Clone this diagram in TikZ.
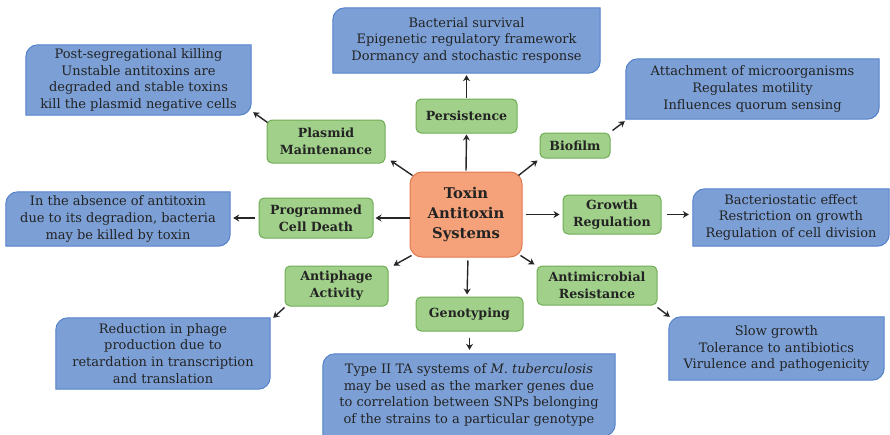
\documentclass[tikz,border=0pt]{standalone}
\usepackage{fontspec}
\setmainfont{DejaVu Serif}
\usetikzlibrary{arrows.meta,calc,backgrounds}
\definecolor{gfill}{RGB}{160,208,138}
\definecolor{gline}{RGB}{112,172,86}
\definecolor{bfill}{RGB}{124,160,214}
\definecolor{bline}{RGB}{84,130,202}
\definecolor{ofill}{RGB}{245,162,122}
\definecolor{oline}{RGB}{226,122,80}
\definecolor{txt}{RGB}{35,35,35}
\tikzset{
  x=1pt, y=-1pt,
  greenbox/.style={draw=gline, fill=gfill, line width=1pt, rounded corners=5pt,
    align=center, inner sep=1pt, font=\fontsize{12.6}{17}\selectfont\bfseries, text=txt},
  orangebox/.style={draw=oline, fill=ofill, line width=1pt, rounded corners=12pt,
    align=center, inner sep=1pt, font=\fontsize{14.8}{20}\selectfont\bfseries, text=txt},
  bluebox/.style={align=center, inner sep=1pt, font=\fontsize{13}{16.8}\selectfont, text=txt},
  conn/.style={-{Stealth[length=6pt,width=7pt,inset=2pt]}, line width=1.4pt, black!85}
}
\newcommand\bluebg[1]{%
  \path[fill=bfill, draw=bline, line width=1pt]
    (#1.south west) -- ([yshift=-12pt]#1.north west) arc[start angle=180,end angle=90,radius=12pt]
    -- (#1.north east) -- ([yshift=12pt]#1.south east) arc[start angle=0,end angle=-90,radius=12pt]
    -- cycle;}
\begin{document}
\begin{tikzpicture}
\useasboundingbox (0,0) rectangle (890,434);
% central
\node[orangebox, minimum width=112pt, minimum height=85pt] (tas) at (466,214.5) {Toxin\\Antitoxin\\Systems};
% green
\node[greenbox, minimum width=101pt, minimum height=34pt] (pers) at (466.5,116) {Persistence};
\node[greenbox, minimum width=118pt, minimum height=43pt] (plasm) at (326,141.5) {Plasmid\\Maintenance};
\node[greenbox, minimum width=70pt, minimum height=25pt] (bio) at (575,145.5) {Biofilm};
\node[greenbox, minimum width=114pt, minimum height=40pt] (pcd) at (316,218) {Programmed\\Cell Death};
\node[greenbox, minimum width=98pt, minimum height=39pt] (grow) at (612,214.5) {Growth\\Regulation};
\node[greenbox, minimum width=103pt, minimum height=40pt] (anti) at (336.5,286) {Antiphage\\Activity};
\node[greenbox, minimum width=107pt, minimum height=34pt] (geno) at (469.5,314) {Genotyping};
\node[greenbox, minimum width=120pt, minimum height=39pt] (amr) at (597,285.5) {Antimicrobial\\Resistance};
% blue
\node[bluebox, minimum width=267pt, minimum height=65pt] (surv) at (466.5,40.5) {Bacterial survival\\Epigenetic regulatory framework\\Dormancy and stochastic response};
\node[bluebox, minimum width=225pt, minimum height=70pt] (post) at (138.5,80) {Post-segregational killing\\Unstable antitoxins are\\degraded and stable toxins\\kill the plasmid negative cells};
\node[bluebox, minimum width=253pt, minimum height=60pt] (att) at (752.5,89) {Attachment of microorganisms\\Regulates motility\\Influences quorum sensing};
\node[bluebox, minimum width=224pt, minimum height=54pt] (abs) at (118,219) {In the absence of antitoxin\\due to its degradion, bacteria\\may be killed by toxin};
\node[bluebox, minimum width=196pt, minimum height=57pt] (bact) at (791,217.5) {Bacteriostatic effect\\Restriction on growth\\Regulation of cell division};
\node[bluebox, minimum width=214pt, minimum height=71pt] (red) at (163,353.5) {Reduction in phage\\production due to\\retardation in transcription\\and translation};
\node[bluebox, minimum width=292pt, minimum height=82pt] (typ) at (469,395) {Type II TA systems of \textit{M. tuberculosis}\\may be used as the marker genes due\\to correlation between SNPs belonging\\of the strains to a particular genotype};
\node[bluebox, minimum width=215pt, minimum height=63pt] (slow) at (776.5,348.5) {Slow growth\\Tolerance to antibiotics\\Virulence and pathogenicity};
\begin{pgfonlayer}{background}
\foreach \n in {surv,post,att,abs,bact,red,typ,slow}{\bluebg{\n}}
\end{pgfonlayer}
% connectors
\draw[conn, shorten <=1pt, shorten >=1pt] (tas.north) -- (pers.south);
\draw[conn, shorten <=1pt, shorten >=2pt] (pers.north) -- (surv.south);
\draw[conn] ($(tas.north west)+(3,4)$) -- ($(plasm.south east)+(5,-3)$);
\draw[conn] ($(plasm.north west)+(1,3)$) -- ($(post.south east)+(2,-3)$);
\draw[conn] ($(tas.north east)+(-4,4)$) -- ($(bio.south west)+(-2,2)$);
\draw[conn] ($(bio.north east)+(2,-2)$) -- ($(att.south west)+(-1,2)$);
\draw[conn, shorten >=2pt] (tas.west |- pcd.east) -- (pcd.east);
\draw[conn, shorten <=4pt, shorten >=3pt] (pcd.west) -- (pcd.west -| abs.east);
\draw[conn, shorten <=3pt, shorten >=3pt] (tas.east) -- (grow.west);
\draw[conn, shorten <=5pt, shorten >=4pt] (grow.east) -- (grow.east -| bact.west);
\draw[conn] ($(tas.south west)+(2,-2)$) -- ($(anti.north east)+(5,0)$);
\draw[conn] ($(anti.south west)+(0,1)$) -- ($(red.north east)+(3,0)$);
\draw[conn, shorten <=3pt, shorten >=2pt] ([xshift=2pt]tas.south) -- ([xshift=1pt]tas.south |- geno.north);
\draw[conn, shorten <=6pt, shorten >=4pt] (geno.south) -- (geno.south |- typ.north);
\draw[conn] ($(tas.south east)+(-2,-2)$) -- ($(amr.north west)+(-2,-1)$);
\draw[conn] ($(amr.south east)+(0,2)$) -- ($(slow.north west)+(1,0)$);
\end{tikzpicture}
\end{document}
